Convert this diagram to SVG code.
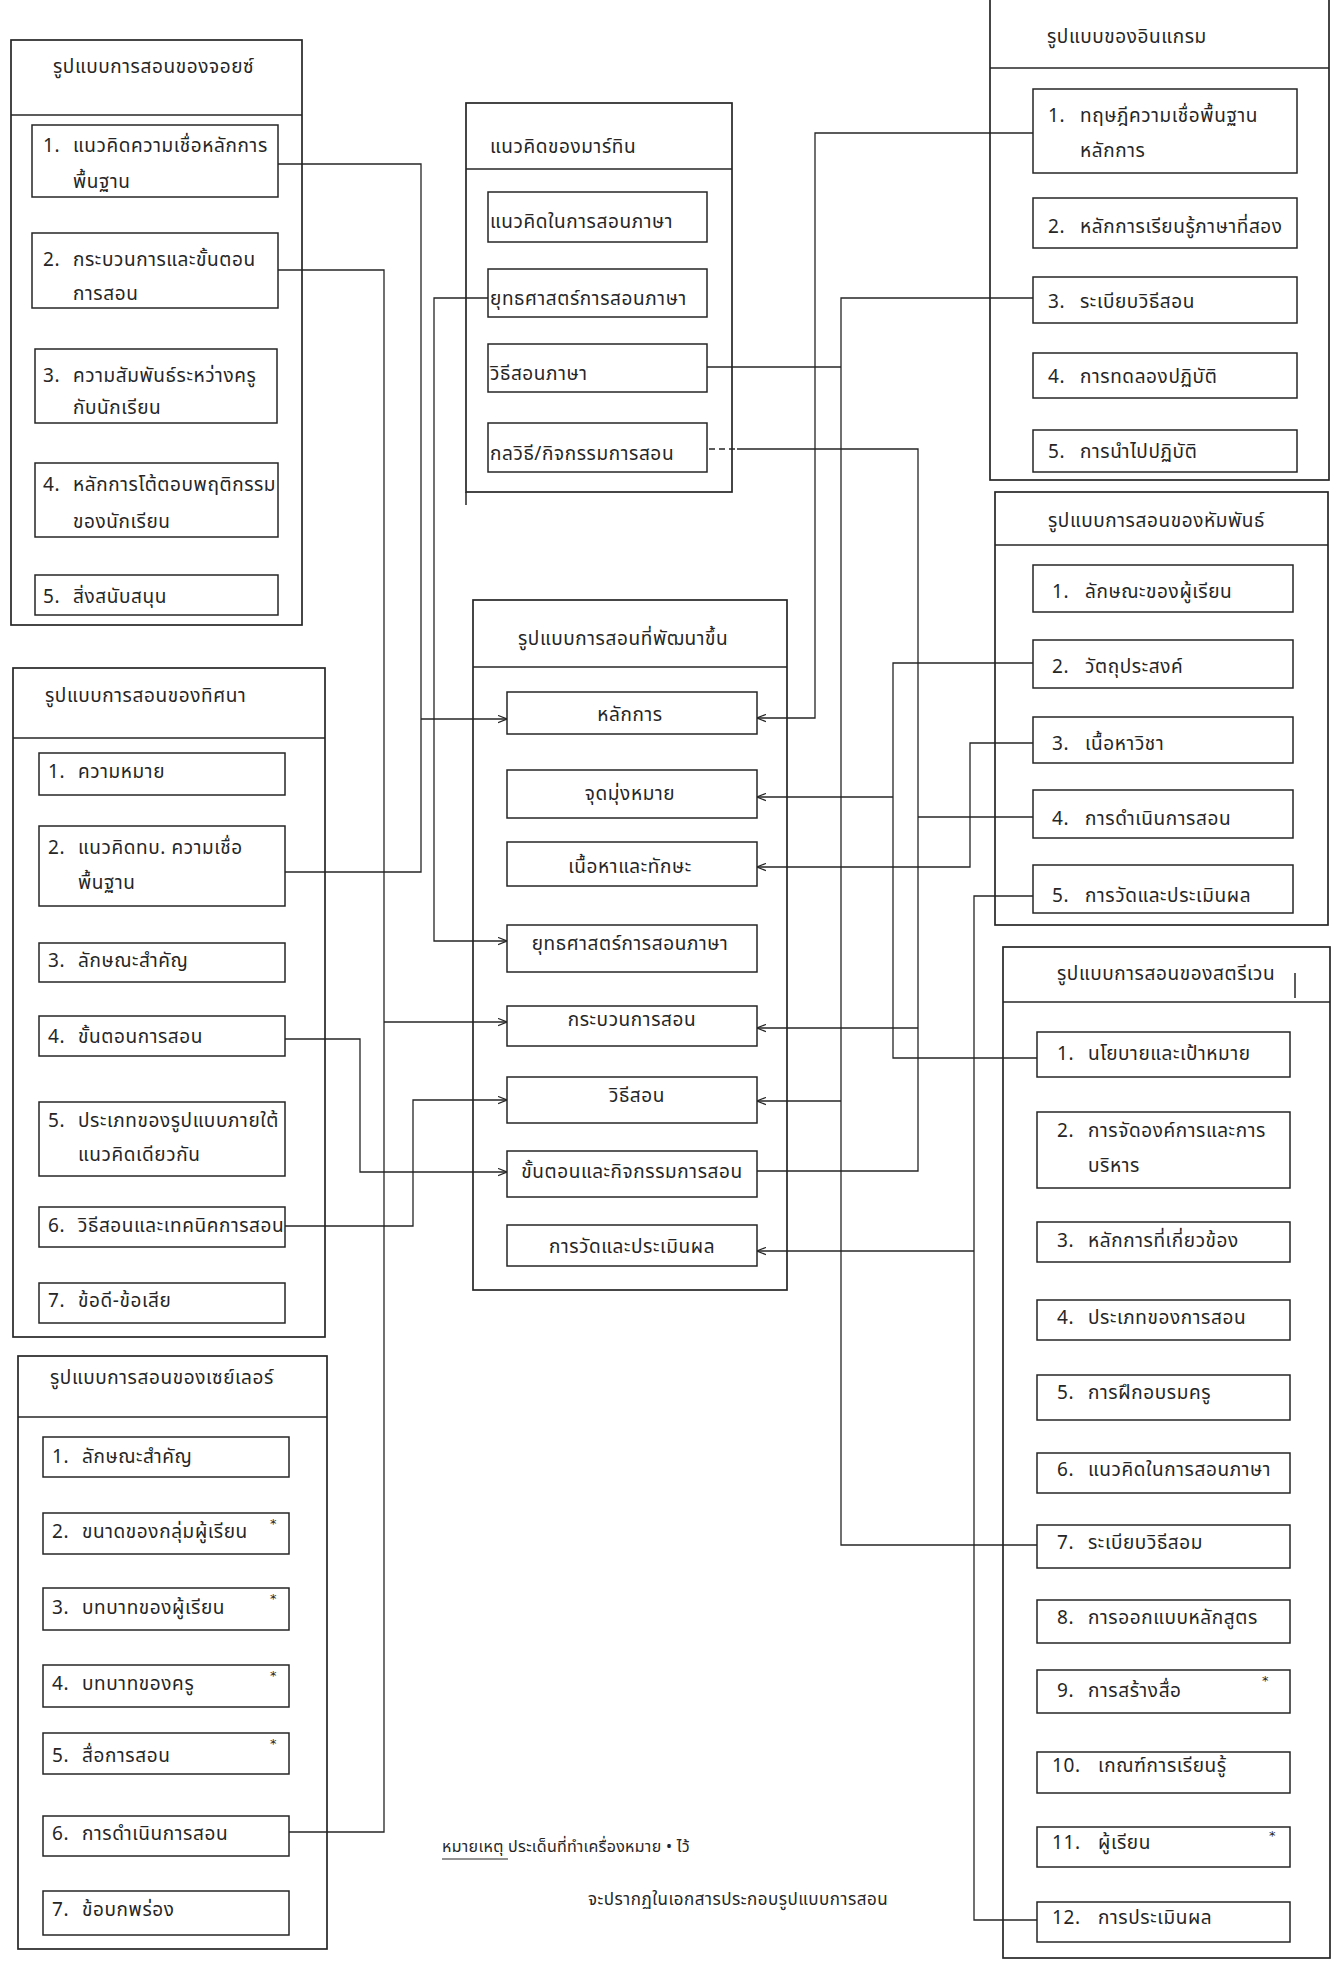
<svg xmlns="http://www.w3.org/2000/svg" width="1341" height="1962" viewBox="0 0 1341 1962">
<style>
.bg{fill:#ffffff}
.box{fill:none;stroke:#262626;stroke-width:1.7}
.item{fill:none;stroke:#262626;stroke-width:1.5}
.hd{stroke:#262626;stroke-width:1.5}
.t{font-family:"Noto Sans Thai","Noto Sans","DejaVu Sans",sans-serif;font-size:19px;letter-spacing:0.6px;fill:#262626}
.tc{text-anchor:middle}
.n1{font-size:16px;letter-spacing:0.3px}
.n2{font-size:17px;letter-spacing:0.5px}
.mk{font-family:"DejaVu Sans",sans-serif;font-size:13px;fill:#262626}
.conn path{fill:none;stroke:#262626;stroke-width:1.3}
.conn .dash{stroke-dasharray:6 4}
</style>
<defs>
<marker id="arr" viewBox="0 0 10 10" refX="10" refY="5" markerWidth="9" markerHeight="9" orient="auto" markerUnits="userSpaceOnUse">
<path d="M0,1 L10,5 L0,9" fill="none" stroke="#262626" stroke-width="1.3"/>
</marker>
</defs>
<rect class="bg" x="0" y="0" width="1341" height="1962"/>

<g id="joyce">
<rect class="box" x="11" y="40" width="291" height="585"/>
<line class="hd" x1="11" y1="115" x2="302" y2="115"/>
<text class="t" x="53" y="73">รูปแบบการสอนของจอยซ์</text>
<rect class="item" x="32" y="125" width="246" height="72"/>
<text class="t" y="152"><tspan x="43">1.</tspan><tspan x="73">แนวคิดความเชื่อหลักการ</tspan></text>
<text class="t" x="73" y="188">พื้นฐาน</text>
<rect class="item" x="32" y="233" width="246" height="75"/>
<text class="t" y="266"><tspan x="43">2.</tspan><tspan x="73">กระบวนการและขั้นตอน</tspan></text>
<text class="t" x="73" y="300">การสอน</text>
<rect class="item" x="35" y="349" width="242" height="74"/>
<text class="t" y="382"><tspan x="43">3.</tspan><tspan x="73">ความสัมพันธ์ระหว่างครู</tspan></text>
<text class="t" x="73" y="414">กับนักเรียน</text>
<rect class="item" x="35" y="463" width="243" height="74"/>
<text class="t" y="491"><tspan x="43">4.</tspan><tspan x="73">หลักการโต้ตอบพฤติกรรม</tspan></text>
<text class="t" x="73" y="528">ของนักเรียน</text>
<rect class="item" x="35" y="575" width="243" height="40"/>
<text class="t" y="603"><tspan x="43">5.</tspan><tspan x="73">สิ่งสนับสนุน</tspan></text>
</g>

<g id="thisana">
<rect class="box" x="13" y="668" width="312" height="669"/>
<line class="hd" x1="13" y1="738" x2="325" y2="738"/>
<text class="t" x="45" y="702">รูปแบบการสอนของทิศนา</text>
<rect class="item" x="39" y="753" width="246" height="42"/>
<text class="t" y="778"><tspan x="48">1.</tspan><tspan x="78">ความหมาย</tspan></text>
<rect class="item" x="39" y="826" width="246" height="80"/>
<text class="t" y="854"><tspan x="48">2.</tspan><tspan x="78">แนวคิดทบ. ความเชื่อ</tspan></text>
<text class="t" x="78" y="889">พื้นฐาน</text>
<rect class="item" x="39" y="943" width="246" height="39"/>
<text class="t" y="967"><tspan x="48">3.</tspan><tspan x="78">ลักษณะสำคัญ</tspan></text>
<rect class="item" x="39" y="1016" width="246" height="40"/>
<text class="t" y="1043"><tspan x="48">4.</tspan><tspan x="78">ขั้นตอนการสอน</tspan></text>
<rect class="item" x="39" y="1102" width="246" height="74"/>
<text class="t" y="1127"><tspan x="48">5.</tspan><tspan x="78">ประเภทของรูปแบบภายใต้</tspan></text>
<text class="t" x="78" y="1161">แนวคิดเดียวกัน</text>
<rect class="item" x="39" y="1207" width="246" height="40"/>
<text class="t" y="1232"><tspan x="48">6.</tspan><tspan x="78">วิธีสอนและเทคนิคการสอน</tspan></text>
<rect class="item" x="39" y="1283" width="246" height="40"/>
<text class="t" y="1307"><tspan x="48">7.</tspan><tspan x="78">ข้อดี-ข้อเสีย</tspan></text>
</g>

<g id="seiser">
<rect class="box" x="18" y="1356" width="309" height="593"/>
<line class="hd" x1="18" y1="1417" x2="327" y2="1417"/>
<text class="t" x="50" y="1384">รูปแบบการสอนของเซย์เลอร์</text>
<rect class="item" x="43" y="1437" width="246" height="40"/>
<text class="t" y="1463"><tspan x="52">1.</tspan><tspan x="82">ลักษณะสำคัญ</tspan></text>
<rect class="item" x="43" y="1513" width="246" height="41"/>
<text class="t" y="1538"><tspan x="52">2.</tspan><tspan x="82">ขนาดของกลุ่มผู้เรียน</tspan></text>
<text class="mk" x="270" y="1528">*</text>
<rect class="item" x="43" y="1588" width="246" height="42"/>
<text class="t" y="1614"><tspan x="52">3.</tspan><tspan x="82">บทบาทของผู้เรียน</tspan></text>
<text class="mk" x="270" y="1603">*</text>
<rect class="item" x="43" y="1665" width="246" height="42"/>
<text class="t" y="1690"><tspan x="52">4.</tspan><tspan x="82">บทบาทของครู</tspan></text>
<text class="mk" x="270" y="1680">*</text>
<rect class="item" x="43" y="1733" width="246" height="41"/>
<text class="t" y="1762"><tspan x="52">5.</tspan><tspan x="82">สื่อการสอน</tspan></text>
<text class="mk" x="270" y="1748">*</text>
<rect class="item" x="43" y="1816" width="246" height="40"/>
<text class="t" y="1840"><tspan x="52">6.</tspan><tspan x="82">การดำเนินการสอน</tspan></text>
<rect class="item" x="43" y="1891" width="246" height="44"/>
<text class="t" y="1916"><tspan x="52">7.</tspan><tspan x="82">ข้อบกพร่อง</tspan></text>
</g>

<g id="martin">
<rect class="box" x="466" y="103" width="266" height="389"/>
<line class="hd" x1="466" y1="492" x2="466" y2="505"/>
<line class="hd" x1="466" y1="169" x2="732" y2="169"/>
<text class="t" x="490" y="153">แนวคิดของมาร์ทิน</text>
<rect class="item" x="488" y="192" width="219" height="50"/>
<text class="t" x="490" y="228">แนวคิดในการสอนภาษา</text>
<rect class="item" x="488" y="269" width="219" height="48"/>
<text class="t" x="490" y="305">ยุทธศาสตร์การสอนภาษา</text>
<rect class="item" x="488" y="344" width="219" height="48"/>
<text class="t" x="490" y="380">วิธีสอนภาษา</text>
<rect class="item" x="488" y="423" width="219" height="49"/>
<text class="t" x="490" y="460">กลวิธี/กิจกรรมการสอน</text>
</g>

<g id="developed">
<rect class="box" x="473" y="600" width="314" height="690"/>
<line class="hd" x1="473" y1="667" x2="787" y2="667"/>
<text class="t" x="518" y="645">รูปแบบการสอนที่พัฒนาขึ้น</text>
<rect class="item" x="507" y="692" width="250" height="42"/>
<text class="t tc" x="630" y="721">หลักการ</text>
<rect class="item" x="507" y="770" width="250" height="48"/>
<text class="t tc" x="630" y="800">จุดมุ่งหมาย</text>
<rect class="item" x="507" y="842" width="250" height="44"/>
<text class="t tc" x="630" y="873">เนื้อหาและทักษะ</text>
<rect class="item" x="507" y="925" width="250" height="47"/>
<text class="t tc" x="630" y="950">ยุทธศาสตร์การสอนภาษา</text>
<rect class="item" x="507" y="1006" width="250" height="40"/>
<text class="t tc" x="632" y="1026">กระบวนการสอน</text>
<rect class="item" x="507" y="1077" width="250" height="46"/>
<text class="t tc" x="637" y="1102">วิธีสอน</text>
<rect class="item" x="507" y="1151" width="250" height="46"/>
<text class="t tc" x="632" y="1178">ขั้นตอนและกิจกรรมการสอน</text>
<rect class="item" x="507" y="1225" width="250" height="41"/>
<text class="t tc" x="632" y="1253">การวัดและประเมินผล</text>
</g>

<g id="ingram">
<rect class="box" x="990" y="-5" width="339" height="485"/>
<line class="hd" x1="990" y1="68" x2="1329" y2="68"/>
<text class="t" x="1047" y="43">รูปแบบของอินแกรม</text>
<rect class="item" x="1033" y="89" width="264" height="84"/>
<text class="t" y="122"><tspan x="1048">1.</tspan><tspan x="1080">ทฤษฎีความเชื่อพื้นฐาน</tspan></text>
<text class="t" x="1080" y="157">หลักการ</text>
<rect class="item" x="1033" y="198" width="264" height="50"/>
<text class="t" y="233"><tspan x="1048">2.</tspan><tspan x="1080">หลักการเรียนรู้ภาษาที่สอง</tspan></text>
<rect class="item" x="1033" y="277" width="264" height="46"/>
<text class="t" y="308"><tspan x="1048">3.</tspan><tspan x="1080">ระเบียบวิธีสอน</tspan></text>
<rect class="item" x="1033" y="353" width="264" height="45"/>
<text class="t" y="383"><tspan x="1048">4.</tspan><tspan x="1080">การทดลองปฏิบัติ</tspan></text>
<rect class="item" x="1033" y="430" width="264" height="42"/>
<text class="t" y="458"><tspan x="1048">5.</tspan><tspan x="1080">การนำไปปฏิบัติ</tspan></text>
</g>

<g id="humphan">
<rect class="box" x="995" y="492" width="333" height="433"/>
<line class="hd" x1="995" y1="545" x2="1328" y2="545"/>
<text class="t" x="1048" y="527">รูปแบบการสอนของหัมพันธ์</text>
<rect class="item" x="1033" y="565" width="260" height="47"/>
<text class="t" y="598"><tspan x="1052">1.</tspan><tspan x="1085">ลักษณะของผู้เรียน</tspan></text>
<rect class="item" x="1033" y="640" width="260" height="48"/>
<text class="t" y="673"><tspan x="1052">2.</tspan><tspan x="1085">วัตถุประสงค์</tspan></text>
<rect class="item" x="1033" y="717" width="260" height="46"/>
<text class="t" y="750"><tspan x="1052">3.</tspan><tspan x="1085">เนื้อหาวิชา</tspan></text>
<rect class="item" x="1033" y="790" width="260" height="48"/>
<text class="t" y="825"><tspan x="1052">4.</tspan><tspan x="1085">การดำเนินการสอน</tspan></text>
<rect class="item" x="1033" y="865" width="260" height="48"/>
<text class="t" y="902"><tspan x="1052">5.</tspan><tspan x="1085">การวัดและประเมินผล</tspan></text>
</g>

<g id="stravin">
<rect class="box" x="1003" y="947" width="327" height="1011"/>
<line class="hd" x1="1003" y1="1002" x2="1330" y2="1002"/>
<line class="hd" x1="1295" y1="973" x2="1295" y2="998"/>
<text class="t" x="1057" y="980">รูปแบบการสอนของสตรีเวน</text>
<rect class="item" x="1037" y="1032" width="253" height="45"/>
<text class="t" y="1060"><tspan x="1057">1.</tspan><tspan x="1088">นโยบายและเป้าหมาย</tspan></text>
<rect class="item" x="1037" y="1112" width="253" height="76"/>
<text class="t" y="1137"><tspan x="1057">2.</tspan><tspan x="1088">การจัดองค์การและการ</tspan></text>
<text class="t" x="1088" y="1172">บริหาร</text>
<rect class="item" x="1037" y="1222" width="253" height="40"/>
<text class="t" y="1247"><tspan x="1057">3.</tspan><tspan x="1088">หลักการที่เกี่ยวข้อง</tspan></text>
<rect class="item" x="1037" y="1300" width="253" height="40"/>
<text class="t" y="1324"><tspan x="1057">4.</tspan><tspan x="1088">ประเภทของการสอน</tspan></text>
<rect class="item" x="1037" y="1375" width="253" height="45"/>
<text class="t" y="1399"><tspan x="1057">5.</tspan><tspan x="1088">การฝึกอบรมครู</tspan></text>
<rect class="item" x="1037" y="1453" width="253" height="40"/>
<text class="t" y="1476"><tspan x="1057">6.</tspan><tspan x="1088">แนวคิดในการสอนภาษา</tspan></text>
<rect class="item" x="1037" y="1525" width="253" height="43"/>
<text class="t" y="1549"><tspan x="1057">7.</tspan><tspan x="1088">ระเบียบวิธีสอม</tspan></text>
<rect class="item" x="1037" y="1600" width="253" height="43"/>
<text class="t" y="1624"><tspan x="1057">8.</tspan><tspan x="1088">การออกแบบหลักสูตร</tspan></text>
<rect class="item" x="1037" y="1670" width="253" height="43"/>
<text class="t" y="1697"><tspan x="1057">9.</tspan><tspan x="1088">การสร้างสื่อ</tspan></text>
<text class="mk" x="1262" y="1685">*</text>
<rect class="item" x="1037" y="1752" width="253" height="41"/>
<text class="t" y="1772"><tspan x="1052">10.</tspan><tspan x="1098">เกณฑ์การเรียนรู้</tspan></text>
<rect class="item" x="1037" y="1827" width="253" height="40"/>
<text class="t" y="1849"><tspan x="1052">11.</tspan><tspan x="1098">ผู้เรียน</tspan></text>
<text class="mk" x="1269" y="1840">*</text>
<rect class="item" x="1037" y="1902" width="253" height="40"/>
<text class="t" y="1924"><tspan x="1052">12.</tspan><tspan x="1098">การประเมินผล</tspan></text>
</g>

<g id="note">
<text class="t n1" x="442" y="1852">หมายเหตุ ประเด็นที่ทำเครื่องหมาย • ไว้</text>
<line class="hd" x1="442" y1="1859" x2="508" y2="1859" style="stroke-width:1.2"/>
<text class="t n2" x="588" y="1905">จะปรากฏในเอกสารประกอบรูปแบบการสอน</text>
</g>

<g id="connectors" class="conn">
<path d="M278,164 H421 V872 H285"/>
<path d="M421,719 H507" marker-end="url(#arr)"/>
<path d="M278,270 H384 V1832 H289"/>
<path d="M384,1022 H507" marker-end="url(#arr)"/>
<path d="M285,1039 H360 V1172 H507" marker-end="url(#arr)"/>
<path d="M285,1226 H413 V1100 H507" marker-end="url(#arr)"/>
<path d="M488,298 H434 V941 H507" marker-end="url(#arr)"/>
<path d="M1033,133 H815 V718 H757" marker-end="url(#arr)"/>
<path d="M1033,298 H841 V1545 H1037"/>
<path d="M707,367 H841"/>
<path d="M841,1101 H757" marker-end="url(#arr)"/>
<path class="dash" d="M709,449 H737"/>
<path d="M737,449 H918 V1171 H757"/>
<path d="M1033,817 H918"/>
<path d="M918,1028 H757" marker-end="url(#arr)"/>
<path d="M1033,663 H893 V1058 H1037"/>
<path d="M893,797 H757" marker-end="url(#arr)"/>
<path d="M1033,743 H970 V867 H757" marker-end="url(#arr)"/>
<path d="M1033,896 H974 V1920 H1037"/>
<path d="M974,1251 H757" marker-end="url(#arr)"/>
</g>
</svg>
